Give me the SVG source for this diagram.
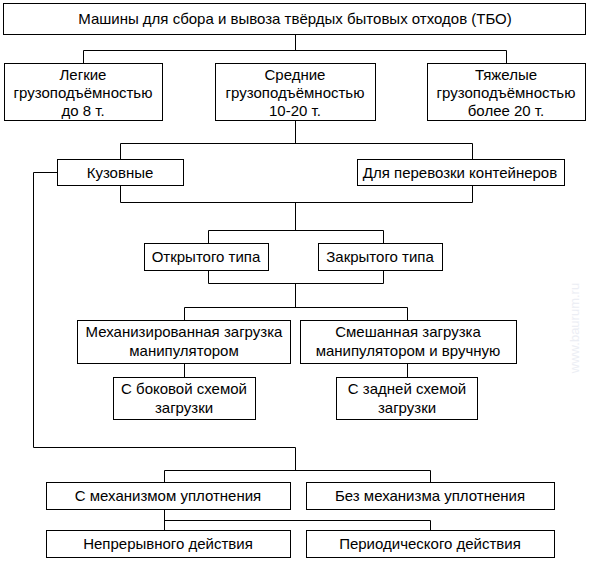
<svg xmlns="http://www.w3.org/2000/svg" width="591" height="562" viewBox="0 0 591 562">
<style>
rect{fill:#fff;stroke:#000;stroke-width:1}
text{font-family:"Liberation Sans",Arial,sans-serif;font-size:15px;fill:#000;text-anchor:middle}
.c{fill:none;stroke:#000;stroke-width:1}
.wm{fill:#eceef4;font-size:13px}
</style>
<rect x="0" y="0" width="591" height="562" style="stroke:none"/>
<g id="connectors">
<path class="c" d="M295.5 34V50.5M83.5 63V50.5H506.5V63"/>
<path class="c" d="M295.5 120V143.5M120.5 159V143.5H472.5V159M120.5 185V202.5H472.5V185M295.5 202.5V230.5"/>
<path class="c" d="M208.5 243V230.5H383.5V243M208.5 270V283.5H383.5V270M295.5 283.5V307.5M184.5 320V307.5H407.5V320"/>
<path class="c" d="M184.5 363V377M407.5 363V377"/>
<path class="c" d="M57 172.5H33.5V447.5H295.5V470.5M164.5 482V470.5H430.5V482"/>
<path class="c" d="M164.5 509V530M164.5 520.5H430.5V530"/>
</g>
<g id="n-root"><rect x="3.5" y="3.5" width="582" height="31"/><text x="295" y="24">Машины для сбора и вывоза твёрдых бытовых отходов (ТБО)</text></g>
<g id="n-light"><rect x="4.5" y="63.5" width="158" height="57"/><text x="83" y="80">Легкие</text><text x="83" y="98">грузоподъёмностью</text><text x="83" y="116">до 8 т.</text></g>
<g id="n-medium"><rect x="215.5" y="63.5" width="160" height="57"/><text x="295" y="80">Средние</text><text x="295" y="98">грузоподъёмностью</text><text x="295" y="116">10-20 т.</text></g>
<g id="n-heavy"><rect x="427.5" y="63.5" width="158" height="57"/><text x="506" y="80">Тяжелые</text><text x="506" y="98">грузоподъёмностью</text><text x="506" y="116">более 20 т.</text></g>
<g id="n-body"><rect x="57.5" y="159.5" width="126" height="26"/><text x="120" y="178">Кузовные</text></g>
<g id="n-cont"><rect x="357.5" y="159.5" width="207" height="26"/><text x="460" y="178">Для перевозки контейнеров</text></g>
<g id="n-open"><rect x="144.5" y="243.5" width="124" height="27"/><text x="206" y="262">Открытого типа</text></g>
<g id="n-closed"><rect x="318.5" y="243.5" width="124" height="27"/><text x="380" y="262">Закрытого типа</text></g>
<g id="n-mech"><rect x="77.5" y="320.5" width="213" height="43"/><text x="184" y="337">Механизированная загрузка</text><text x="184" y="356">манипулятором</text></g>
<g id="n-mixed"><rect x="300.5" y="320.5" width="216" height="43"/><text x="408" y="337">Смешанная загрузка</text><text x="408" y="356">манипулятором и вручную</text></g>
<g id="n-side"><rect x="113.5" y="377.5" width="142" height="42"/><text x="184" y="394">С боковой схемой</text><text x="184" y="413">загрузки</text></g>
<g id="n-rear"><rect x="336.5" y="377.5" width="141" height="42"/><text x="407" y="394">С задней схемой</text><text x="407" y="413">загрузки</text></g>
<g id="n-with"><rect x="46.5" y="482.5" width="244" height="27"/><text x="168" y="501">С механизмом уплотнения</text></g>
<g id="n-without"><rect x="306.5" y="482.5" width="248" height="27"/><text x="430" y="501">Без механизма уплотнения</text></g>
<g id="n-cont2"><rect x="46.5" y="530.5" width="244" height="27"/><text x="168" y="549">Непрерывного действия</text></g>
<g id="n-period"><rect x="306.5" y="530.5" width="248" height="27"/><text x="430" y="549">Периодического действия</text></g>
<text class="wm" transform="translate(579 328) rotate(-90)">www.baurum.ru</text>
</svg>
